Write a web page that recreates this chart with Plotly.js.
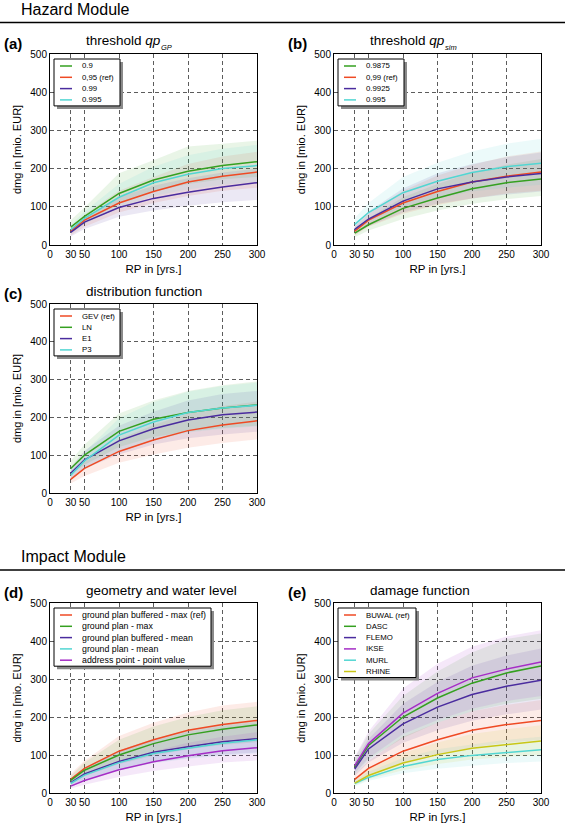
<!DOCTYPE html>
<html><head><meta charset="utf-8">
<script src="https://cdn.plot.ly/plotly-3.0.1.min.js"></script>
<style>html,body{margin:0;padding:0;background:#fff}#chart{width:568px;height:825px}</style>
</head><body><div id="chart"></div>
<script>
// ---------------- DATA ----------------
const rp = [30, 50, 100, 150, 200, 250, 300];
const xTicks = [0, 30, 50, 100, 150, 200, 250, 300];
const yTicks = [0, 100, 200, 300, 400, 500];

// (a) threshold qp_GP
const aNames = ['0.9', '0,95 (ref)', '0.99', '0.995'];
const aMean = [[47,75,135,170,193,208,218],[36,65,110,140,165,180,191],[33,60,98,122,138,152,163],[40,70,125,163,185,200,208]];
const aLow  = [[35,58,108,140,160,172,178],[25,48,85,110,128,142,150],[22,42,74,90,103,112,118],[30,55,98,128,145,158,165]];
const aHigh = [[65,98,188,222,258,265,273],[45,80,142,178,212,232,244],[42,72,125,155,175,190,200],[52,88,160,205,235,252,262]];

// (b) threshold qp_sim
const bNames = ['0.9875', '0,99 (ref)', '0.9925', '0.995'];
const bMean = [[31,53,96,123,147,163,173],[36,65,110,140,165,180,191],[41,68,115,147,165,178,187],[54,85,137,167,190,205,214]];
const bLow  = [[20,38,68,90,108,120,128],[25,48,82,105,122,135,142],[28,50,85,108,122,132,140],[38,62,100,122,140,150,158]];
const bHigh = [[40,70,125,160,190,210,225],[48,82,142,182,210,232,245],[52,88,148,188,212,230,242],[70,110,178,215,245,265,278]];

// (c) distribution function
const cNames = ['GEV (ref)', 'LN', 'E1', 'P3'];
const cMean = [[36,65,110,140,165,180,191],[65,100,163,195,213,225,233],[52,88,138,170,193,207,214],[47,85,153,188,213,225,232]];
const cLow  = [[25,45,80,102,120,132,142],[48,75,122,148,163,172,178],[38,65,102,128,145,155,162],[34,62,112,140,160,170,176]];
const cHigh = [[48,82,142,180,210,230,242],[85,128,210,245,270,285,295],[68,112,178,215,245,262,270],[62,108,198,240,268,283,292]];

// (d) geometry and water level
const dNames = ['ground plan buffered - max (ref)', 'ground plan - max', 'ground plan buffered - mean', 'ground plan - mean', 'address point - point value'];
const dMean = [[36,65,110,140,165,180,191],[33,60,100,130,153,168,179],[27,50,83,107,122,135,143],[25,47,80,104,118,131,140],[18,33,61,82,98,111,119]];
const dLow  = [[27,48,82,105,122,135,143],[24,44,76,98,115,126,134],[20,36,62,80,92,101,107],[19,35,60,78,90,98,104],[12,22,42,58,70,80,86]];
const dHigh = [[50,85,150,185,212,230,240],[45,80,140,175,200,218,228],[38,66,112,142,165,180,190],[37,64,108,138,160,175,185],[25,45,85,110,132,148,160]];

// (e) damage function
const eNames = ['BUWAL (ref)', 'DASC', 'FLEMO', 'IKSE', 'MURL', 'RHINE'];
const eMean = [[36,65,110,140,165,180,191],[68,125,200,250,289,316,334],[63,116,182,226,259,281,297],[72,130,210,262,303,326,345],[25,41,70,88,99,107,114],[26,46,79,101,118,127,137]];
const eLow  = [[27,48,80,102,120,132,140],[50,88,145,185,215,235,248],[45,80,132,165,190,207,220],[52,92,155,192,222,242,255],[18,32,52,64,72,79,83],[20,36,60,76,88,95,100]];
const eHigh = [[50,85,148,185,215,232,245],[92,155,255,320,370,405,420],[82,142,235,292,335,362,380],[95,162,275,340,385,412,428],[32,56,92,115,128,140,148],[37,63,105,133,155,168,178]];

// ---------------- STYLE ----------------
const RED = '#EF4A24', GREEN = '#35A020', PURPLE = '#4A2C9E', CYAN = '#52D6D2', MAGENTA = '#A52DC6', YELLOW = '#C9C617';
const W = 568, H = 825;
const FONT = 'Liberation Sans, Arial, sans-serif';
const px = x => x / W;
const py = y => 1 - y / H;
function rgba(hex, a) {
  const n = parseInt(hex.slice(1), 16);
  return `rgba(${(n >> 16) & 255},${(n >> 8) & 255},${n & 255},${a})`;
}

const panels = [
  {lab:'(a)', L:50, R:257, T:54, B:245, names:aNames, colors:[GREEN,RED,PURPLE,CYAN], mean:aMean, low:aLow, high:aHigh,
   title:'threshold <i>qp</i>', sub:'GP', legW:66, legFont:7.8},
  {lab:'(b)', L:334, R:541, T:54, B:245, names:bNames, colors:[GREEN,RED,PURPLE,CYAN], mean:bMean, low:bLow, high:bHigh,
   title:'threshold <i>qp</i>', sub:'sim', legW:66, legFont:7.8},
  {lab:'(c)', L:50, R:257, T:304, B:493, names:cNames, colors:[RED,GREEN,PURPLE,CYAN], mean:cMean, low:cLow, high:cHigh,
   title:'distribution function', legW:66, legFont:7.8},
  {lab:'(d)', L:50, R:257, T:603, B:793, names:dNames, colors:[RED,GREEN,PURPLE,CYAN,MAGENTA], mean:dMean, low:dLow, high:dHigh,
   title:'geometry and water level', legW:157, legFont:8.8},
  {lab:'(e)', L:334, R:541, T:603, B:793, names:eNames, colors:[RED,GREEN,PURPLE,MAGENTA,CYAN,YELLOW], mean:eMean, low:eLow, high:eHigh,
   title:'damage function', legW:78, legFont:7.8}
];

const traces = [];
const shapes = [];
const annotations = [];
const layout = {
  width: W, height: H,
  margin: {l:0, r:0, t:0, b:0},
  paper_bgcolor: '#fff', plot_bgcolor: '#fff',
  showlegend: false,
  font: {family: FONT, color: '#000'},
  shapes, annotations
};

panels.forEach((p, k) => {
  const sfx = k === 0 ? '' : String(k + 1);
  const xa = 'x' + sfx, ya = 'y' + sfx;
  const axBase = {
    showline: true, mirror: true, linecolor: '#000', linewidth: 1,
    showgrid: true, gridcolor: 'rgba(0,0,0,0.8)', gridwidth: 0.8, griddash: '4px,3px',
    zeroline: false, ticks: '', tickfont: {size: 10, family: FONT, color: '#000'},
    fixedrange: true
  };
  layout['xaxis' + sfx] = Object.assign({}, axBase, {
    domain: [px(p.L), px(p.R)], anchor: ya, range: [0, 300],
    tickmode: 'array', tickvals: xTicks, ticktext: xTicks.map(String),
    title: {text: 'RP in [yrs.]', font: {size: 11.5, family: FONT}, standoff: 5}
  });
  layout['yaxis' + sfx] = Object.assign({}, axBase, {
    domain: [py(p.B), py(p.T)], anchor: xa, range: [0, 500],
    tickmode: 'array', tickvals: yTicks, ticktext: yTicks.map(String),
    title: {text: 'dmg in [mio. EUR]', font: {size: 11, family: FONT}, standoff: 6}
  });

  // uncertainty bands
  p.names.forEach((n, i) => {
    traces.push({
      type: 'scatter', mode: 'lines', xaxis: xa, yaxis: ya,
      x: rp.concat(rp.slice().reverse()),
      y: p.low[i].concat(p.high[i].slice().reverse()),
      fill: 'toself', fillcolor: rgba(p.colors[i], 0.11),
      line: {width: 0}, hoverinfo: 'skip', showlegend: false
    });
  });
  // mean lines
  p.names.forEach((n, i) => {
    traces.push({
      type: 'scatter', mode: 'lines', xaxis: xa, yaxis: ya, name: n,
      x: rp, y: p.mean[i], line: {color: p.colors[i], width: 1.5}, showlegend: false
    });
  });

  // panel title and label
  annotations.push({xref:'paper', yref:'paper', x: px(p.L + 34), y: py(p.T - 13), xanchor:'left', yanchor:'middle',
    text: p.title, showarrow:false, font:{size:13.5, family:FONT}});
  if (p.sub) {
    annotations.push({xref:'paper', yref:'paper', x: px(p.L + 109), y: py(p.T - 7), xanchor:'left', yanchor:'middle',
      text: p.sub, showarrow:false, font:{size:7.5, family:FONT, style:'italic'}});
  }
  annotations.push({xref:'paper', yref:'paper', x: px(p.L - 48), y: py(p.T - 11), xanchor:'left', yanchor:'middle',
    text: '<b>' + p.lab + '</b>', showarrow:false, font:{size:15, family:FONT}});

  // legend box (matplotlib-style, with shadow)
  const left = p.L + 4, top = p.T + 5, rowH = 11.3;
  const bottom = top + 7 + (p.names.length - 1) * rowH + 6;
  shapes.push({type:'rect', xref:'paper', yref:'paper', layer:'above',
    x0: px(left + 3), x1: px(left + p.legW + 3), y0: py(bottom + 3), y1: py(top + 3),
    fillcolor:'#8a8a8a', line:{width:0}});
  shapes.push({type:'rect', xref:'paper', yref:'paper', layer:'above',
    x0: px(left), x1: px(left + p.legW), y0: py(bottom), y1: py(top),
    fillcolor:'#fff', line:{width:1, color:'#000'}});
  p.names.forEach((n, i) => {
    const cy = top + 7 + i * rowH;
    shapes.push({type:'line', xref:'paper', yref:'paper', layer:'above',
      x0: px(left + 6), x1: px(left + 18), y0: py(cy), y1: py(cy),
      line:{color: p.colors[i], width: 1.5}});
    annotations.push({xref:'paper', yref:'paper', x: px(left + 26), y: py(cy), xanchor:'left', yanchor:'middle',
      text: n, showarrow:false, font:{size: p.legFont, family: FONT}});
  });
});

// module headers
[['Hazard Module', 10, 22.5], ['Impact Module', 556, 570]].forEach(([t, ty, ly]) => {
  annotations.push({xref:'paper', yref:'paper', x: px(19), y: py(ty), xanchor:'left', yanchor:'middle',
    text: t, showarrow:false, font:{size:16, family:FONT}});
  shapes.push({type:'line', xref:'paper', yref:'paper', x0: 0, x1: px(565), y0: py(ly), y1: py(ly),
    line:{color:'#000', width:1.5}});
});

Plotly.newPlot('chart', traces, layout, {staticPlot: true, displayModeBar: false});
</script>
</body></html>
